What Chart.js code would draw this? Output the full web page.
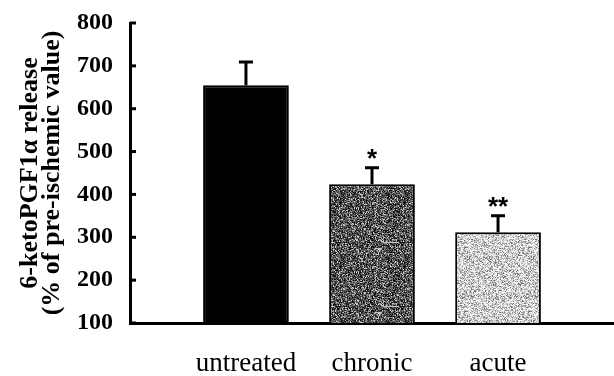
<!DOCTYPE html>
<html>
<head>
<meta charset="utf-8">
<script src="https://cdn.jsdelivr.net/npm/chart.js@4/dist/chart.umd.min.js"></script>
<style>
  html, body { margin: 0; padding: 0; background: #fff; }
  #wrap { width: 614px; height: 376px; }
</style>
</head>
<body>
<div id="wrap"><canvas id="chart" width="614" height="376"></canvas></div>
<script>
const categories = ['untreated', 'chronic', 'acute'];
const releaseValues = [655, 424, 312];
const releaseErrors = [54, 38, 38];
const sigMarks = ['', '*', '**'];
const yTicks = [100, 200, 300, 400, 500, 600, 700, 800];

// speckled fill like the scanned print, deterministic noise
function speckle(levels, seed) {
  const c = document.createElement('canvas');
  c.width = 64; c.height = 64;
  const ctx = c.getContext('2d');
  const img = ctx.createImageData(64, 64);
  let s = seed;
  for (let i = 0; i < 64 * 64; i++) {
    s = (s * 1103515245 + 12345) >>> 0;
    const v = levels[(s >>> 16) % levels.length];
    img.data[i * 4] = v; img.data[i * 4 + 1] = v; img.data[i * 4 + 2] = v; img.data[i * 4 + 3] = 255;
  }
  ctx.putImageData(img, 0, 0);
  return ctx.createPattern(c, 'repeat');
}

const ctxMain = document.getElementById('chart').getContext('2d');
const fills = [
  '#000',
  speckle([10, 30, 50, 70, 90, 110, 140, 200], 7),
  speckle([120, 160, 185, 200, 215, 230, 245, 255], 13)
];

const errorBars = {
  id: 'errorBars',
  afterDatasetsDraw(chart) {
    const ctx = chart.ctx;
    const yScale = chart.scales.y;
    const meta = chart.getDatasetMeta(0);
    ctx.save();
    ctx.strokeStyle = '#000';
    ctx.lineWidth = 3;
    meta.data.forEach((bar, i) => {
      const top = yScale.getPixelForValue(releaseValues[i] + releaseErrors[i]);
      ctx.beginPath();
      ctx.moveTo(bar.x, bar.y);
      ctx.lineTo(bar.x, top);
      ctx.moveTo(bar.x - 7, top);
      ctx.lineTo(bar.x + 7, top);
      ctx.stroke();
      if (sigMarks[i]) {
        ctx.fillStyle = '#000';
        ctx.font = 'bold 26px "Liberation Sans"';
        ctx.textAlign = 'center';
        ctx.textBaseline = 'alphabetic';
        ctx.fillText(sigMarks[i], bar.x, top - 1);
      }
    });
    // inward tick marks on the y axis
    const left = chart.chartArea.left;
    ctx.lineWidth = 3;
    yTicks.forEach(v => {
      const y = yScale.getPixelForValue(v);
      ctx.beginPath();
      ctx.moveTo(left, y);
      ctx.lineTo(left + 6, y);
      ctx.stroke();
    });
    ctx.restore();
  }
};

new Chart(ctxMain, {
  type: 'bar',
  data: {
    datasets: [{
      data: releaseValues.map((v, i) => ({ x: i + 1, y: v })),
      backgroundColor: fills,
      borderColor: '#000',
      borderWidth: 2,
      barPercentage: 0.68,
      categoryPercentage: 1
    }]
  },
  options: {
    responsive: false,
    animation: false,
    layout: { padding: { left: 19, top: 23, right: 0, bottom: 0 } },
    plugins: { legend: { display: false }, tooltip: { enabled: false } },
    scales: {
      x: {
        type: 'linear',
        offset: false,
        min: 0.08,
        max: 3.92,
        grid: { display: false, drawTicks: false, offset: false },
        border: { display: true, color: '#000', width: 3 },
        afterBuildTicks: scale => { scale.ticks = categories.map((c, i) => ({ value: i + 1 })); },
        afterFit: scale => { scale.height = 53; },
        ticks: {
          autoSkip: false,
          maxRotation: 0,
          padding: 25,
          color: '#000',
          font: { family: '"Liberation Serif"', size: 27 },
          callback: v => categories[v - 1]
        }
      },
      y: {
        min: 100,
        max: 800,
        grid: { display: false, drawTicks: false },
        border: { display: true, color: '#000', width: 3 },
        afterBuildTicks: scale => { scale.ticks = yTicks.map(v => ({ value: v })); },
        afterFit: scale => { scale.width = 111; scale.paddingTop = 0; scale.paddingBottom = 0; },
        ticks: {
          padding: 17,
          color: '#000',
          font: { family: '"Liberation Serif"', size: 24, weight: 'bold' }
        },
        title: {
          display: true,
          text: ['6-ketoPGF1\u03b1 release', '(% of pre-ischemic value)'],
          color: '#000',
          font: { family: '"Liberation Serif"', size: 26, weight: 'bold', lineHeight: 0.85 },
          padding: { top: 0, bottom: 4 }
        }
      }
    }
  },
  plugins: [errorBars]
});
</script>
</body>
</html>
